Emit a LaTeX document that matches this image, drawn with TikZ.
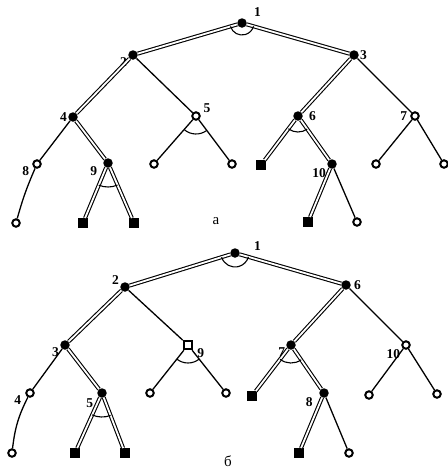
\documentclass[tikz,border=0pt]{standalone}
\usepackage{fontspec}
\setmainfont{Liberation Serif}
\usetikzlibrary{calc}
\tikzset{
    fullnode/.style={circle, fill=black, inner sep=0pt, minimum size=9.5pt},
    opennode/.style={circle, draw=black, line width=2pt, fill=white, inner sep=0pt, minimum size=7.5pt},
    opensq/.style={rectangle, draw=black, line width=2pt, fill=white, inner sep=0pt, minimum size=8.5pt},
    solved/.style={rectangle, fill=black, inner sep=0pt, minimum size=9.5pt},
    lbl/.style={font=\fontsize{13.5}{13.5}\selectfont\bfseries, inner sep=1pt},
    soledge/.style={draw=black, line width=1.1pt, double=white, double distance=1.8pt},
    edge/.style={draw=black, line width=1.3pt},
    andarc/.style={draw=black, line width=1.1pt},
    capt/.style={font=\fontsize{15}{15}\selectfont}
}
% arc of an AND node between the edges to two children
\newcommand{\andarc}[4]{%
  \draw[andarc] let \p1=($(#2)-(#1)$), \p2=($(#3)-(#1)$),
    \n1={atan2(\y1,\x1)}, \n2={atan2(\y2,\x2)} in
    ($(#1)+(\n1:#4)$) arc[start angle=\n1, end angle=\n2, radius=#4];
}

\begin{document}
\begin{tikzpicture}[x=1pt, y=-1pt]
  \useasboundingbox (0,0) rectangle (448,475);

  % Tree a
  \node[fullnode, label={[lbl, label distance=7pt]25:1}] (a1) at (242,23) {};
  \node[fullnode, label={[lbl]190:2}] (a2) at (133,55) {};
  \node[fullnode, label={[lbl]right:3}] (a3) at (354,55) {};
  \node[fullnode, label={[lbl]left:4}] (a4) at (73,117) {};
  \node[opennode, label={[lbl, label distance=2pt]20:5}] (a5) at (196,116) {};
  \node[fullnode, label={[lbl, label distance=5pt]right:6}] (a6) at (298,116) {};
  \node[opennode, label={[lbl, label distance=2pt]left:7}] (a7) at (415,116) {};
  \node[opennode, label={[lbl, label distance=2pt]190:8}] (a8) at (37,164) {};
  \node[fullnode, label={[lbl, label distance=5pt]195:9}] (a9) at (108,163) {};
  \node[fullnode, label={[lbl, label distance=1pt]215:10}] (a10) at (332,164) {};
  \node[opennode] (a5l) at (154,164) {};
  \node[opennode] (a5r) at (232,164) {};
  \node[solved] (a6l) at (261,165) {};
  \node[opennode] (a7l) at (376,164) {};
  \node[opennode] (a7r) at (444,164) {};
  \node[opennode] (a8l) at (16,223) {};
  \node[solved] (a9l) at (83,223) {};
  \node[solved] (a9r) at (134,223) {};
  \node[solved] (a10l) at (308,222) {};
  \node[opennode] (a10r) at (357,222) {};
  \node[capt] (capa) at (216,221) {а};

  \draw[soledge] (a1) -- (a2);
  \draw[soledge] (a1) -- (a3);
  \draw[soledge] (a2) -- (a4);
  \draw[edge] (a2) -- (a5);
  \draw[soledge] (a3) -- (a6);
  \draw[edge] (a3) -- (a7);
  \draw[edge] (a4) -- (a8);
  \draw[soledge] (a4) -- (a9);
  \draw[edge] (a5) -- (a5l);
  \draw[edge] (a5) -- (a5r);
  \draw[soledge] (a6) -- (a6l);
  \draw[soledge] (a6) -- (a10);
  \draw[edge] (a7) -- (a7l);
  \draw[edge] (a7) -- (a7r);
  \draw[edge] (a8) to[bend right=4] (a8l);
  \draw[soledge] (a9) -- (a9l);
  \draw[soledge] (a9) -- (a9r);
  \draw[soledge] (a10) -- (a10l);
  \draw[edge] (a10) -- (a10r);

  \andarc{a1}{a2}{a3}{12pt}
  \andarc{a5}{a5l}{a5r}{18pt}
  \andarc{a6}{a6l}{a10}{16pt}
  \andarc{a9}{a9l}{a9r}{24pt}

  % Tree b
  \node[fullnode, label={[lbl, label distance=13pt]5:1}] (b1) at (235,253) {};
  \node[fullnode, label={[lbl]170:2}] (b2) at (125,287) {};
  \node[fullnode, label={[lbl, label distance=2pt]right:6}] (b6) at (346,285) {};
  \node[fullnode, label={[lbl]190:3}] (b3) at (65,345) {};
  \node[opensq, label={[lbl, label distance=3pt]345:9}] (b9) at (188,345) {};
  \node[fullnode, label={[lbl]200:7}] (b7) at (291,345) {};
  \node[opennode, label={[lbl, label distance=1pt]215:10}] (b10) at (406,345) {};
  \node[opennode, label={[lbl, label distance=3pt]190:4}] (b4) at (30,393) {};
  \node[fullnode, label={[lbl, label distance=4pt]210:5}] (b5) at (102,393) {};
  \node[fullnode, label={[lbl, label distance=6pt]200:8}] (b8) at (324,393) {};
  \node[opennode] (b9l) at (150,393) {};
  \node[opennode] (b9r) at (226,393) {};
  \node[solved] (b7l) at (252,396) {};
  \node[opennode] (b10l) at (369,395) {};
  \node[opennode] (b10r) at (437,394) {};
  \node[opennode] (b4l) at (12,453) {};
  \node[solved] (b5l) at (75,453) {};
  \node[solved] (b5r) at (125,453) {};
  \node[solved] (b8l) at (299,453) {};
  \node[opennode] (b8r) at (349,453) {};
  \node[capt] (capb) at (228,461) {б};

  \draw[soledge] (b1) -- (b2);
  \draw[soledge] (b1) -- (b6);
  \draw[soledge] (b2) -- (b3);
  \draw[edge] (b2) -- (b9);
  \draw[soledge] (b6) -- (b7);
  \draw[edge] (b6) -- (b10);
  \draw[edge] (b3) -- (b4);
  \draw[soledge] (b3) -- (b5);
  \draw[edge] (b9) -- (b9l);
  \draw[edge] (b9) -- (b9r);
  \draw[soledge] (b7) -- (b7l);
  \draw[soledge] (b7) -- (b8);
  \draw[edge] (b10) -- (b10l);
  \draw[edge] (b10) -- (b10r);
  \draw[edge] (b4) to[bend right=10] (b4l);
  \draw[soledge] (b5) -- (b5l);
  \draw[soledge] (b5) -- (b5r);
  \draw[soledge] (b8) -- (b8l);
  \draw[edge] (b8) -- (b8r);

  \andarc{b1}{b2}{b6}{14pt}
  \andarc{b9}{b9l}{b9r}{18pt}
  \andarc{b7}{b7l}{b8}{18pt}
  \andarc{b5}{b5l}{b5r}{24pt}

\end{tikzpicture}
\end{document}
